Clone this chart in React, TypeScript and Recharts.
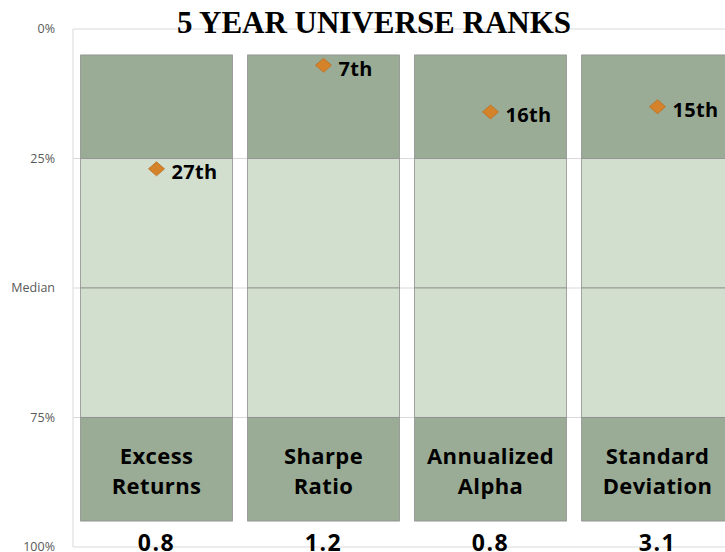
import React from "react";
import { ComposedChart, Bar, Line, XAxis, YAxis, CartesianGrid, LabelList } from "recharts";

const categories = ["Excess Returns", "Sharpe Ratio", "Annualized Alpha", "Standard Deviation"];
const ranks = [27, 7, 16, 15];
const metricValues = ["0.8", "1.2", "0.8", "3.1"];
const bandGapTop = [5, 5, 5, 5];
const bandQ1 = [20, 20, 20, 20];
const bandQ2 = [25, 25, 25, 25];
const bandQ3 = [25, 25, 25, 25];
const bandQ4 = [20, 20, 20, 20];
const bandGapBottom = [5, 5, 5, 5];
const yTicks = [0, 25, 50, 75, 100];

const data = categories.map((name, i) => ({
  name,
  rank: ranks[i],
  metric: metricValues[i],
  g0: bandGapTop[i],
  q1: bandQ1[i],
  q2: bandQ2[i],
  q3: bandQ3[i],
  q4: bandQ4[i],
  g1: bandGapBottom[i],
}));

const DARK = "#9BAC96";
const LIGHT = "#D2DECE";
const EDGE = "#8E8E8E";
const LABEL_FONT = "'Open Sans', 'Liberation Sans', sans-serif";

const Diamond = (props: any) => {
  const { cx, cy } = props;
  if (cx == null || cy == null) return null;
  const w = 8, h = 7;
  return (
    <polygon
      points={`${cx},${cy - h} ${cx + w},${cy} ${cx},${cy + h} ${cx - w},${cy}`}
      fill="#D5832B"
      stroke="#B96F22"
      strokeWidth={0.8}
    />
  );
};

const RankLabel = (props: any) => {
  const { x, y, value } = props;
  return (
    <text x={x + 15} y={y + 10.5} fontFamily={LABEL_FONT} fontWeight={700} fontSize={20} letterSpacing={0.3} fill="#000">
      {`${value}th`}
    </text>
  );
};

const CatLabel = (props: any) => {
  const { x, y, width, height, value } = props;
  const top = Math.min(y, y + height);
  const parts = String(value).split(" ");
  const cx = x + width / 2;
  return (
    <g>
      <text x={cx} y={top + 46} textAnchor="middle" fontFamily={LABEL_FONT} fontWeight={700} fontSize={22} letterSpacing={0.4} fill="#000">
        {parts[0]}
      </text>
      <text x={cx} y={top + 76} textAnchor="middle" fontFamily={LABEL_FONT} fontWeight={700} fontSize={22} letterSpacing={0.4} fill="#000">
        {parts.slice(1).join(" ")}
      </text>
    </g>
  );
};

const ValueLabel = (props: any) => {
  const { x, y, width, height, value } = props;
  const bottom = Math.max(y, y + height);
  return (
    <text x={x + width / 2} y={bottom + 4} textAnchor="middle" fontFamily={LABEL_FONT} fontWeight={700} fontSize={23} letterSpacing={1.5} fill="#000">
      {value}
    </text>
  );
};

export default function App() {
  return (
    <div style={{ position: "fixed", left: 0, top: 0, width: 725, height: 552, overflow: "hidden", background: "#fff" }}>
      <div style={{ position: "absolute", left: 8, top: 8 }}>
        <ComposedChart
          width={738}
          height={560}
          data={data}
          margin={{ top: 21, right: 5, bottom: 21, left: 8 }}
          barCategoryGap="4.5%"
        >
          <CartesianGrid horizontal vertical={false} stroke="#D9D9D9" />
          <XAxis dataKey="name" type="category" hide />
          <YAxis
            type="number"
            domain={[0, 100]}
            reversed
            ticks={yTicks}
            interval={0}
            width={57}
            tickLine={false}
            axisLine={{ stroke: "#D9D9D9" }}
            tickMargin={12}
            tick={{ fontSize: 12.5, fill: "#595959", fontFamily: LABEL_FONT }}
            tickFormatter={(v: number) => (v === 50 ? "Median" : `${v}%`)}
          />
          <Bar dataKey="g0" stackId="s" fill="transparent" isAnimationActive={false} />
          <Bar dataKey="q1" stackId="s" fill={DARK} stroke={EDGE} strokeWidth={0.8} isAnimationActive={false} />
          <Bar dataKey="q2" stackId="s" fill={LIGHT} stroke={EDGE} strokeWidth={0.8} isAnimationActive={false} />
          <Bar dataKey="q3" stackId="s" fill={LIGHT} stroke={EDGE} strokeWidth={0.8} isAnimationActive={false} />
          <Bar dataKey="q4" stackId="s" fill={DARK} stroke={EDGE} strokeWidth={0.8} isAnimationActive={false}>
            <LabelList dataKey="name" content={CatLabel} />
          </Bar>
          <Bar dataKey="g1" stackId="s" fill="transparent" isAnimationActive={false}>
            <LabelList dataKey="metric" content={ValueLabel} />
          </Bar>
          <Line dataKey="rank" stroke="none" dot={<Diamond />} activeDot={false} isAnimationActive={false}>
            <LabelList dataKey="rank" content={RankLabel} />
          </Line>
        </ComposedChart>
        <div
          style={{
            position: "absolute",
            left: 0,
            top: 0,
            width: 732,
            textAlign: "center",
            fontFamily: "'Liberation Serif', serif",
            fontWeight: 700,
            fontSize: 31,
            lineHeight: "30px",
            color: "#000",
            pointerEvents: "none",
          }}
        >
          5 YEAR UNIVERSE RANKS
        </div>
      </div>
    </div>
  );
}
